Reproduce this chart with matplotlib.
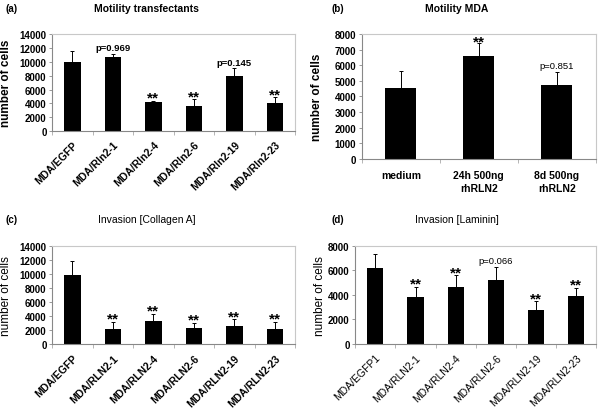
import matplotlib
matplotlib.use("Agg")
import matplotlib.pyplot as plt
import numpy as np

plt.rcParams['font.family'] = ['Liberation Sans', 'DejaVu Sans']

# (a) motility of transfectants
cats_a = ["MDA/EGFP", "MDA/Rln2-1", "MDA/Rln2-4", "MDA/Rln2-6", "MDA/Rln2-19", "MDA/Rln2-23"]
vals_a = [10050, 10750, 4200, 3600, 8000, 4000]
err_a = [1550, 450, 200, 1000, 1050, 900]
notes_a = ["", "p=0.969", "**", "**", "p=0.145", "**"]

# (b) motility MDA with rhRLN2
cats_b = ["medium", "24h 500ng\nrhRLN2", "8d 500ng\nrhRLN2"]
vals_b = [4520, 6570, 4730]
err_b = [1080, 830, 810]
notes_b = ["", "**", "p=0.851"]

# (c) invasion collagen A
cats_c = ["MDA/EGFP", "MDA/RLN2-1", "MDA/RLN2-4", "MDA/RLN2-6", "MDA/RLN2-19", "MDA/RLN2-23"]
vals_c = [9900, 2150, 3300, 2250, 2500, 2150]
err_c = [2000, 1050, 1000, 750, 1050, 1050]
notes_c = ["", "**", "**", "**", "**", "**"]

# (d) invasion laminin
cats_d = ["MDA/EGFP1", "MDA/RLN2-1", "MDA/RLN2-4", "MDA/RLN2-6", "MDA/RLN2-19", "MDA/RLN2-23"]
vals_d = [6200, 3870, 4670, 5250, 2800, 3900]
err_d = [1150, 800, 950, 990, 700, 700]
notes_d = ["", "**", "**", "p=0.066", "**", "**"]

fig = plt.figure(figsize=(6, 4.14), dpi=100)


def panel(rect, cats, vals, errs, notes, ymax, ystep, rotate,
          xlab_weight, ylab_weight, p_weight, ylab_x):
    ax = fig.add_axes(rect)
    x = np.arange(len(cats))
    ax.bar(x, vals, width=0.4, color='black', zorder=2)
    ax.errorbar(x, vals, yerr=[np.zeros(len(errs)), errs], fmt='none',
                ecolor='black', elinewidth=0.7, capsize=1.5, capthick=0.7, zorder=3)
    ax.set_xlim(-0.5, len(cats) - 0.5)
    ax.set_ylim(0, ymax)
    ax.set_yticks(np.arange(0, ymax + 1, ystep))
    for s in ['top', 'right']:
        ax.spines[s].set_color('#c8c8c8')
        ax.spines[s].set_linewidth(0.8)
    for s in ['left', 'bottom']:
        ax.spines[s].set_color('#888888')
        ax.spines[s].set_linewidth(0.8)
    ax.tick_params(axis='y', length=2.5, width=0.6, color='#888888', pad=1.5,
                   labelsize=7)
    for t in ax.get_yticklabels():
        t.set_fontweight('bold')
    # category separators as ticks, labels at centers
    ax.set_xticks(np.arange(len(cats) + 1) - 0.5)
    ax.set_xticklabels([])
    ax.tick_params(axis='x', length=3, width=0.6, color='#aaaaaa')
    ax.set_xticks(x, minor=True)
    ax.tick_params(axis='x', which='minor', length=0)
    if rotate:
        ax.set_xticklabels(cats, minor=True, rotation=45, ha='right',
                           rotation_mode='anchor', fontsize=7.5,
                           fontweight=xlab_weight)
        ax.tick_params(axis='x', which='minor', pad=6)
    else:
        ax.set_xticklabels(cats, minor=True, fontsize=7.5,
                           fontweight=xlab_weight, linespacing=1.3)
        ax.tick_params(axis='x', which='minor', pad=8)
    ax.set_ylabel("number of cells", fontsize=8.5, fontweight=ylab_weight)
    ax.yaxis.set_label_coords(ylab_x, 0.5)
    for xi, v, e, n in zip(x, vals, errs, notes):
        if not n:
            continue
        if n.startswith("p"):
            ax.text(xi, v + e + ymax * 0.02, n, ha='center', va='bottom',
                    fontsize=6.8, fontweight=p_weight)
        else:
            ax.text(xi, v + e - ymax * 0.04, n, ha='center', va='bottom',
                    fontsize=11, fontweight='bold')
    return ax


panel([0.087, 0.681, 0.405, 0.234], cats_a, vals_a, err_a, notes_a, 14000, 2000,
      True, 'bold', 'bold', 'bold', -0.165)
panel([0.603, 0.6135, 0.39, 0.302], cats_b, vals_b, err_b, notes_b, 8000, 1000,
      False, 'bold', 'bold', 'normal', -0.165)
panel([0.087, 0.1667, 0.405, 0.237], cats_c, vals_c, err_c, notes_c, 14000, 2000,
      True, 'bold', 'normal', 'normal', -0.165)
panel([0.592, 0.1667, 0.402, 0.237], cats_d, vals_d, err_d, notes_d, 8000, 2000,
      True, 'normal', 'normal', 'normal', -0.12)

# panel letters and titles in figure pixel positions
H = 414.0
fig.text(5 / 600, 1 - 9 / H, "(a)", fontsize=7, fontweight='bold', va='center')
fig.text(146 / 600, 1 - 9 / H, "Motility transfectants", fontsize=7.5,
         fontweight='bold', ha='center', va='center')
fig.text(331 / 600, 1 - 9 / H, "(b)", fontsize=7, fontweight='bold', va='center')
fig.text(457 / 600, 1 - 9 / H, "Motility MDA", fontsize=7.5,
         fontweight='bold', ha='center', va='center')
fig.text(5 / 600, 1 - 220 / H, "(c)", fontsize=7, fontweight='bold', va='center')
fig.text(147 / 600, 1 - 220 / H, "Invasion [Collagen A]", fontsize=7.5,
         ha='center', va='center')
fig.text(331 / 600, 1 - 220 / H, "(d)", fontsize=7, fontweight='bold', va='center')
fig.text(457 / 600, 1 - 220 / H, "Invasion [Laminin]", fontsize=7.5,
         ha='center', va='center')

fig.savefig("out.png", dpi=100)
